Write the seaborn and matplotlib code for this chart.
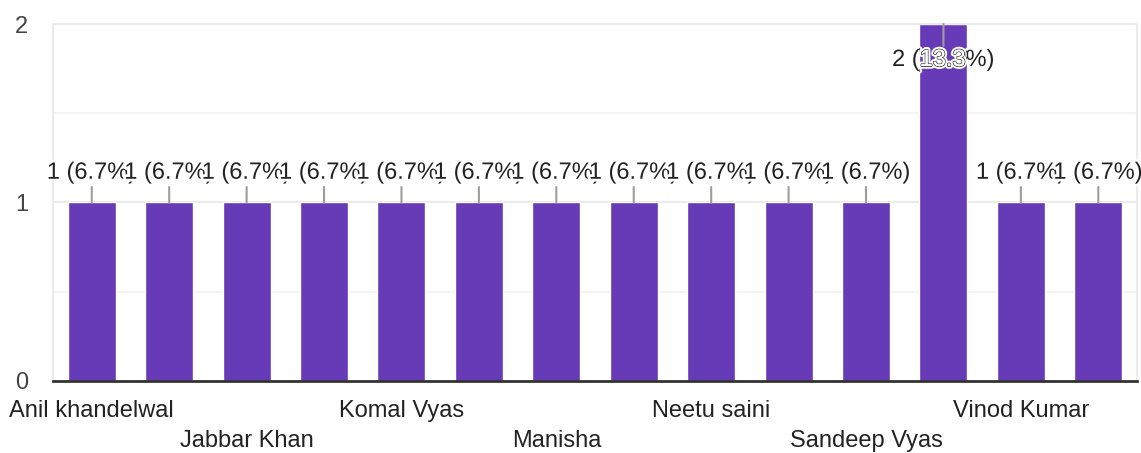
# Response count per name (Google Forms style bar chart)
import pandas as pd
import matplotlib.pyplot as plt
import matplotlib.patheffects as pe
import seaborn as sns

# Data (only every other name is printed on the axis)
names = ["Anil khandelwal", "", "Jabbar Khan", "", "Komal Vyas", "", "Manisha", "",
         "Neetu saini", "", "Sandeep Vyas", "", "Vinod Kumar", ""]
counts = [1, 1, 1, 1, 1, 1, 1, 1, 1, 1, 1, 2, 1, 1]
y_ticks = [0, 1, 2]

total = sum(counts)
df = pd.DataFrame({"pos": list(range(len(counts))), "count": counts})

sns.set_style("white")
plt.rcParams["font.family"] = ["Liberation Sans", "DejaVu Sans"]

fig = plt.figure(figsize=(11.41, 4.53), dpi=100)
ax = fig.add_axes([0.0465, 0.159, 0.95, 0.788])

purple = "#673AB7"
sns.barplot(data=df, x="pos", y="count", color=purple, width=0.62,
            saturation=1, ax=ax, zorder=2)

ax.set_xlim(-0.5, len(counts) - 0.5)
ax.set_ylim(0, 2)
ax.set_yticks(y_ticks)
ax.set_yticks([0.5, 1.5], minor=True)
ax.set_yticklabels([str(t) for t in y_ticks], fontsize=17, color="#444444")
ax.grid(axis="y", which="major", color="#ebebeb", lw=1.5, zorder=0)
ax.grid(axis="y", which="minor", color="#f4f4f4", lw=1.5, zorder=0)
ax.tick_params(axis="both", which="both", length=0)
ax.tick_params(axis="y", pad=18)
ax.set_xlabel("")
ax.set_ylabel("")

# staggered x labels in two rows
labels = []
row = 0
for n in names:
    if n:
        labels.append(n if row % 2 == 0 else "\n" + n)
        row += 1
    else:
        labels.append("")
ax.set_xticks(range(len(names)))
ax.set_xticklabels(labels, fontsize=17, color="#222222")
for lbl in ax.get_xticklabels():
    lbl.set_linespacing(1.45)
ax.tick_params(axis="x", pad=14)

for side in ["left", "right", "top"]:
    ax.spines[side].set_color("#ebebeb")
    ax.spines[side].set_linewidth(1.5)
ax.spines["bottom"].set_color("#333333")
ax.spines["bottom"].set_linewidth(2)

# value labels with leader lines
halo = [pe.withStroke(linewidth=4, foreground="white")]
bars = ax.patches
for i, c in enumerate(counts):
    txt = f"{c} ({c / total * 100:.1f}%)"
    if c == max(counts):
        ax.annotate(txt, xy=(i, c), xytext=(0, -18), textcoords="offset points",
                    ha="center", va="top", fontsize=17, color="#222222",
                    path_effects=halo, zorder=5,
                    arrowprops=dict(arrowstyle="-", color="#9e9e9e", lw=1.5,
                                    shrinkA=0, shrinkB=0))
        inner = ax.annotate(txt, xy=(i, c), xytext=(0, -18), textcoords="offset points",
                            ha="center", va="top", fontsize=17, color="white",
                            path_effects=[pe.withStroke(linewidth=1.2, foreground="#333333"),
                                          pe.Normal()], zorder=6)
        inner.set_clip_path(bars[i])
    else:
        ax.annotate(txt, xy=(i, c), xytext=(0, 13.5), textcoords="offset points",
                    ha="center", va="bottom", fontsize=17, color="#222222",
                    path_effects=halo, zorder=5,
                    arrowprops=dict(arrowstyle="-", color="#9e9e9e", lw=1.5,
                                    shrinkA=0, shrinkB=0))

plt.savefig("out.png", dpi=100)
